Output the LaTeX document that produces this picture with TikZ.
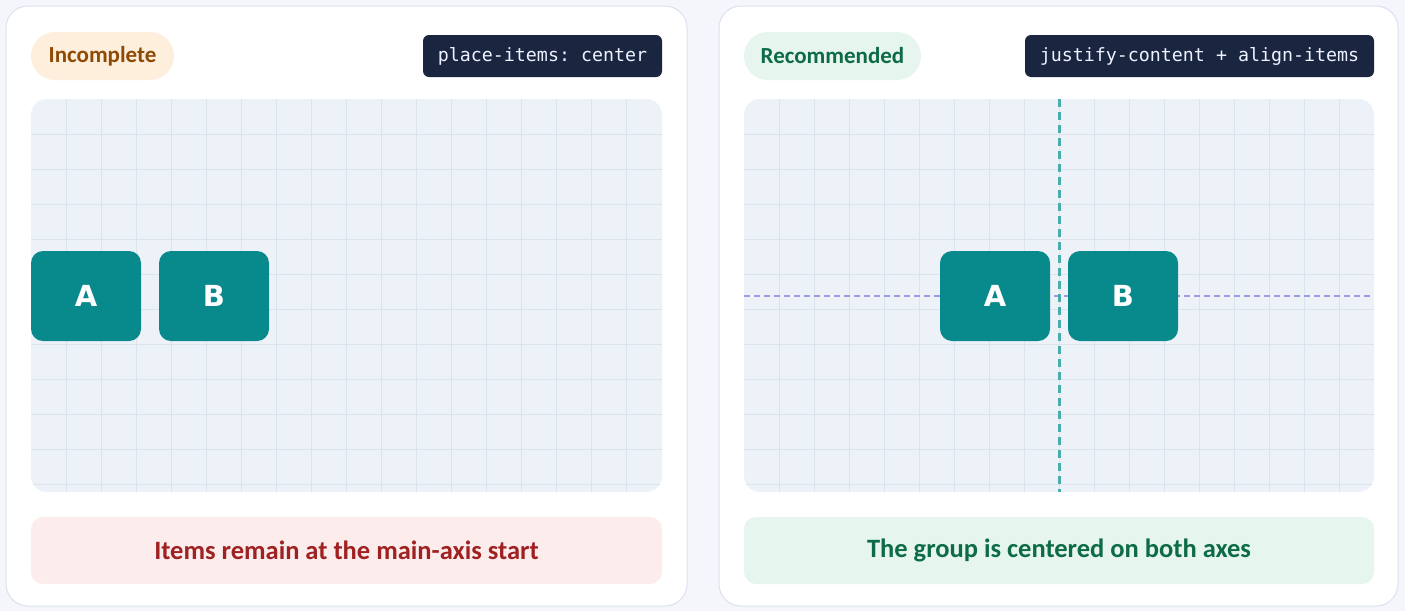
\documentclass[tikz,border=0pt]{standalone}
\usepackage{fontspec}
\setmainfont{Carlito}
\newfontfamily\boxfont{DejaVu Sans}
\setmonofont{DejaVu Sans Mono}
\definecolor{pagebg}{HTML}{F4F6FB}
\definecolor{cardline}{HTML}{DBE2EE}
\definecolor{gridbg}{HTML}{EDF1F8}
\definecolor{gridline}{HTML}{DCE3ED}
\definecolor{tealbox}{HTML}{088A8C}
\definecolor{pilloneBg}{HTML}{FDEFDC}
\definecolor{pilloneFg}{HTML}{8F4A06}
\definecolor{greenBg}{HTML}{E6F6EE}
\definecolor{greenFg}{HTML}{0D6B46}
\definecolor{codeBg}{HTML}{1A2540}
\definecolor{codeFg}{HTML}{EEF2FF}
\definecolor{redBg}{HTML}{FDECEC}
\definecolor{redFg}{HTML}{9F2121}
\definecolor{vaxiscol}{HTML}{4AADAD}
\definecolor{haxiscol}{HTML}{9F9AE6}
\tikzset{
  card/.style={draw=cardline, line width=1pt, fill=white, rounded corners=22pt},
  pill/.style={rounded corners=24pt, inner sep=0pt, font=\bfseries\fontsize{23}{26}\selectfont},
  codelbl/.style={fill=codeBg, text=codeFg, rounded corners=6pt, inner sep=0pt, font=\ttfamily\fontsize{18.3}{20}\selectfont},
  banner/.style={rounded corners=12pt, inner sep=0pt, font=\bfseries\fontsize{26.5}{30}\selectfont},
  item/.style={fill=tealbox, text=white, rounded corners=12pt, minimum width=110pt, minimum height=90pt, inner sep=0pt, font=\boxfont\bfseries\fontsize{29}{30}\selectfont},
  gridarea/.style={fill=gridbg, rounded corners=16pt},
  gridln/.style={draw=gridline, line width=0.8pt},
  haxis/.style={draw=haxiscol, line width=1.4pt, dash pattern=on 6pt off 4pt},
  vaxis/.style={draw=vaxiscol, line width=2.2pt, dash pattern=on 8pt off 5pt},
}
\begin{document}
\begin{tikzpicture}[x=1pt,y=-1pt]
\useasboundingbox (0,0) rectangle (1405,611);
\fill[pagebg] (0,0) rectangle (1405,611);

% ---------- left card ----------
\draw[card] (6,6) rectangle (687,606);
\node[pill, fill=pilloneBg, text=pilloneFg, minimum width=143pt, minimum height=48pt] (pillL) at (102.5,56) {Incomplete};
\node[codelbl, minimum width=239pt, minimum height=42pt] (codeL) at (542.5,56) {place-items: center};
\fill[gridarea] (31,99) rectangle (662,492);
\begin{scope}
  \clip[rounded corners=16pt] (31,99) rectangle (662,492);
  \foreach \i in {1,...,17} \draw[gridln] (31+35*\i,99) -- (31+35*\i,492);
  \foreach \j in {1,...,11} \draw[gridln] (31,99+35*\j) -- (662,99+35*\j);
\end{scope}
\node[item] (aL) at (86,296) {A};
\node[item] (bL) at (214,296) {B};
\node[banner, fill=redBg, text=redFg, minimum width=631pt, minimum height=67pt] (banL) at (346.5,550.5) {Items remain at the main-axis start};

% ---------- right card ----------
\draw[card] (719,6) rectangle (1398,606);
\node[pill, fill=greenBg, text=greenFg, minimum width=177pt, minimum height=48pt] (pillR) at (832.5,56) {Recommended};
\node[codelbl, minimum width=349pt, minimum height=42pt] (codeR) at (1199.5,56) {justify-content + align-items};
\fill[gridarea] (744,99) rectangle (1374,492);
\begin{scope}
  \clip[rounded corners=16pt] (744,99) rectangle (1374,492);
  \foreach \i in {1,...,17} \draw[gridln] (744+35*\i,99) -- (744+35*\i,492);
  \foreach \j in {1,...,11} \draw[gridln] (744,99+35*\j) -- (1374,99+35*\j);
  \coordinate (hl) at (744,296);
  \coordinate (hr) at (1374,296);
  \coordinate (vt) at (1059.5,99);
  \coordinate (vb) at (1059.5,492);
  \draw[haxis] (hl) -- (hr);
  \draw[vaxis] (vt) -- (vb);
\end{scope}
\node[item] (aR) at (995,296) {A};
\node[item] (bR) at (1123,296) {B};
\node[banner, fill=greenBg, text=greenFg, minimum width=630pt, minimum height=67pt] (banR) at (1059,550.5) {The group is centered on both axes};
\end{tikzpicture}
\end{document}
